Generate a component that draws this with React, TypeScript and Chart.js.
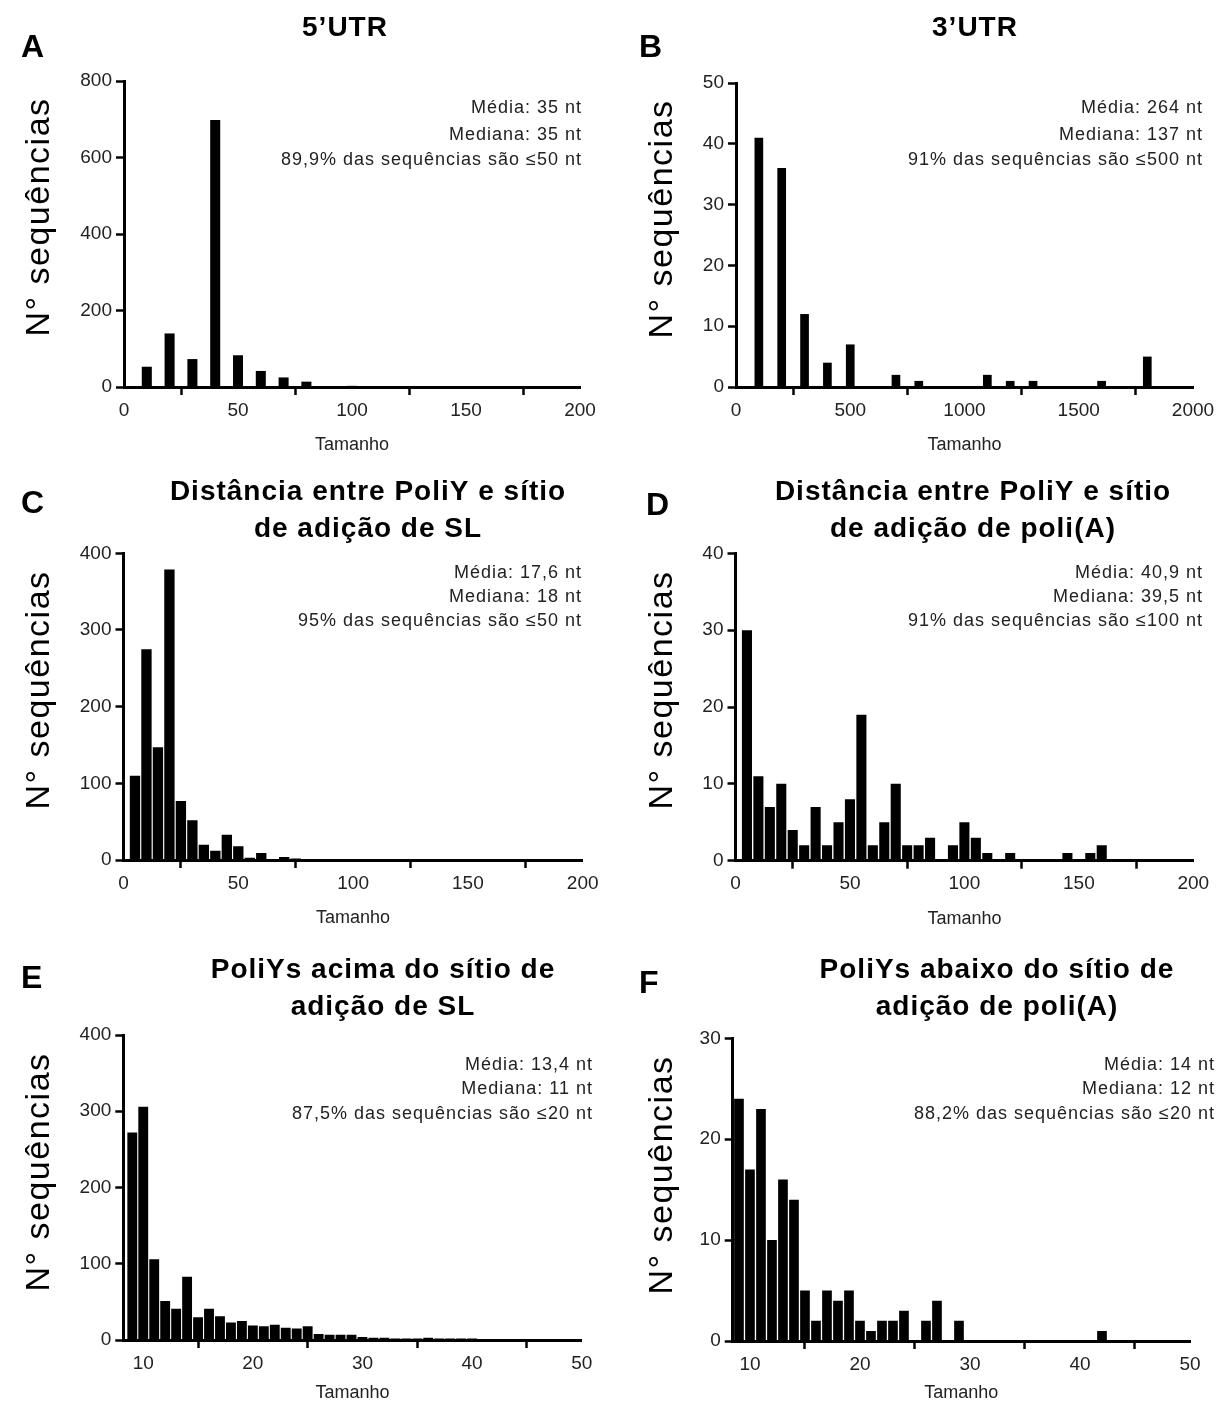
import React, { useEffect, useRef } from 'react';
import { Chart, registerables } from 'chart.js';

Chart.register(...registerables);

const FONT = '"Liberation Sans", Arial, Helvetica, sans-serif';
const Y_TITLE = 'N° sequências';
const X_TITLE = 'Tamanho';

// ---- Panel A: 5'UTR ----
const utr5Lengths = [10, 20, 30, 40, 50, 60, 70, 80, 90, 100];
const utr5Counts = [53, 140, 73, 698, 83, 42, 25, 14, 0, 3];
const utr5XTicks = [0, 50, 100, 150, 200];
const utr5YTicks = [0, 200, 400, 600, 800];

// ---- Panel B: 3'UTR ----
const utr3Lengths = [100, 200, 300, 400, 500, 600, 700, 800, 900, 1000, 1100, 1200, 1300, 1400, 1500, 1600, 1700, 1800];
const utr3Counts = [41, 36, 12, 4, 7, 0, 2, 1, 0, 0, 2, 1, 1, 0, 0, 1, 0, 5];
const utr3XTicks = [0, 500, 1000, 1500, 2000];
const utr3YTicks = [0, 10, 20, 30, 40, 50];

// ---- Panel C: distance PoliY - SL site ----
const slDistLengths = [5, 10, 15, 20, 25, 30, 35, 40, 45, 50, 55, 60, 65, 70, 75, 80];
const slDistCounts = [110, 275, 147, 379, 77, 52, 20, 12, 33, 18, 3, 9, 1, 4, 2, 1];
const slDistXTicks = [0, 50, 100, 150, 200];
const slDistYTicks = [0, 100, 200, 300, 400];

// ---- Panel D: distance PoliY - poly(A) site ----
const paDistLengths = [5, 10, 15, 20, 25, 30, 35, 40, 45, 50, 55, 60, 65, 70, 75, 80, 85, 90, 95, 100, 105, 110, 115, 120, 125, 130, 135, 140, 145, 150, 155, 160];
const paDistCounts = [30, 11, 7, 10, 4, 2, 7, 2, 5, 8, 19, 2, 5, 10, 2, 2, 3, 0, 2, 5, 3, 1, 0, 1, 0, 0, 0, 0, 1, 0, 1, 2];
const paDistXTicks = [0, 50, 100, 150, 200];
const paDistYTicks = [0, 10, 20, 30, 40];

// ---- Panel E: PoliYs upstream of SL site ----
const polyYSLLengths = [9, 10, 11, 12, 13, 14, 15, 16, 17, 18, 19, 20, 21, 22, 23, 24, 25, 26, 27, 28, 29, 30, 31, 32, 33, 34, 35, 36, 37, 38, 39, 40, 41, 42, 43];
const polyYSLCounts = [272, 306, 106, 51, 41, 83, 30, 41, 31, 23, 25, 19, 18, 20, 16, 15, 18, 8, 7, 7, 7, 4, 3, 3, 2, 2, 2, 3, 2, 2, 2, 2, 1, 1, 1];
const polyYSLXTicks = [10, 20, 30, 40, 50];
const polyYSLYTicks = [0, 100, 200, 300, 400];

// ---- Panel F: PoliYs downstream of poly(A) site ----
const polyYPALengths = [9, 10, 11, 12, 13, 14, 15, 16, 17, 18, 19, 20, 21, 22, 23, 24, 25, 26, 27, 28, 29, 30, 31, 32, 33, 34, 35, 36, 37, 38, 39, 40, 41, 42];
const polyYPACounts = [24, 17, 23, 10, 16, 14, 5, 2, 5, 4, 5, 2, 1, 2, 2, 3, 0, 2, 4, 0, 2, 0, 0, 0, 0, 0, 0, 0, 0, 0, 0, 0, 0, 1];
const polyYPAXTicks = [10, 20, 30, 40, 50];
const polyYPAYTicks = [0, 10, 20, 30];

type Box = { left: number; top: number; width: number; height: number };
type Area = { l: number; r: number; t: number; b: number };
type PanelSpec = {
  letter: string;
  title: string[];
  notes: string[];
  bins: number[];
  counts: number[];
  xTicks: number[];
  yTicks: number[];
  xMin: number;
  barPct: number;
  box: Box;
  area: Area;
  letterPos: [number, number];
  titleX: number;
  titleYs: number[];
  notesX: number;
  notesYs: number[];
  yLabelPos: [number, number];
  xTitleGap: number;
};

const PANELS: PanelSpec[] = [
  {
    letter: 'A',
    title: ['5’UTR'],
    notes: ['Média: 35 nt', 'Mediana: 35 nt', '89,9% das sequências são ≤50 nt'],
    bins: utr5Lengths, counts: utr5Counts, xTicks: utr5XTicks, yTicks: utr5YTicks,
    xMin: 0, barPct: 0.44,
    box: { left: 0, top: 0, width: 613, height: 467 },
    area: { l: 124, r: 580, t: 81, b: 387 },
    letterPos: [21, 57], titleX: 345, titleYs: [36],
    notesX: 582, notesYs: [113, 140, 165],
    yLabelPos: [40, 217], xTitleGap: 58,
  },
  {
    letter: 'B',
    title: ['3’UTR'],
    notes: ['Média: 264 nt', 'Mediana: 137 nt', '91% das sequências são ≤500 nt'],
    bins: utr3Lengths, counts: utr3Counts, xTicks: utr3XTicks, yTicks: utr3YTicks,
    xMin: 0, barPct: 0.38,
    box: { left: 613, top: 0, width: 613, height: 467 },
    area: { l: 736, r: 1193, t: 83, b: 387 },
    letterPos: [639, 57], titleX: 975, titleYs: [36],
    notesX: 1203, notesYs: [113, 140, 165],
    yLabelPos: [663, 219], xTitleGap: 58,
  },
  {
    letter: 'C',
    title: ['Distância entre PoliY e sítio', 'de adição de SL'],
    notes: ['Média: 17,6 nt', 'Mediana: 18 nt', '95% das sequências são ≤50 nt'],
    bins: slDistLengths, counts: slDistCounts, xTicks: slDistXTicks, yTicks: slDistYTicks,
    xMin: 0, barPct: 0.9,
    box: { left: 0, top: 467, width: 613, height: 473 },
    area: { l: 123.5, r: 582.7, t: 553.3, b: 860 },
    letterPos: [21, 513], titleX: 368, titleYs: [500, 537],
    notesX: 582, notesYs: [578, 602, 626],
    yLabelPos: [40, 690], xTitleGap: 58,
  },
  {
    letter: 'D',
    title: ['Distância entre PoliY e sítio', 'de adição de poli(A)'],
    notes: ['Média: 40,9 nt', 'Mediana: 39,5 nt', '91% das sequências são ≤100 nt'],
    bins: paDistLengths, counts: paDistCounts, xTicks: paDistXTicks, yTicks: paDistYTicks,
    xMin: 0, barPct: 0.88,
    box: { left: 613, top: 467, width: 613, height: 473 },
    area: { l: 735.5, r: 1193.3, t: 553.3, b: 860.7 },
    letterPos: [646, 515], titleX: 973, titleYs: [500, 537],
    notesX: 1203, notesYs: [578, 602, 626],
    yLabelPos: [663, 690], xTitleGap: 58,
  },
  {
    letter: 'E',
    title: ['PoliYs acima do sítio de', 'adição de SL'],
    notes: ['Média: 13,4 nt', 'Mediana: 11 nt', '87,5% das sequências são ≤20 nt'],
    bins: polyYSLLengths, counts: polyYSLCounts, xTicks: polyYSLXTicks, yTicks: polyYSLYTicks,
    xMin: 8.18, barPct: 0.9,
    box: { left: 0, top: 940, width: 613, height: 462 },
    area: { l: 123.3, r: 581.7, t: 1035, b: 1340 },
    letterPos: [21, 988], titleX: 383, titleYs: [978, 1015],
    notesX: 593, notesYs: [1070, 1094, 1119],
    yLabelPos: [40, 1172], xTitleGap: 53,
  },
  {
    letter: 'F',
    title: ['PoliYs abaixo do sítio de', 'adição de poli(A)'],
    notes: ['Média: 14 nt', 'Mediana: 12 nt', '88,2% das sequências são ≤20 nt'],
    bins: polyYPALengths, counts: polyYPACounts, xTicks: polyYPAXTicks, yTicks: polyYPAYTicks,
    xMin: 8.43, barPct: 0.88,
    box: { left: 613, top: 940, width: 613, height: 462 },
    area: { l: 732.7, r: 1190, t: 1038.3, b: 1341 },
    letterPos: [639, 993], titleX: 997, titleYs: [978, 1015],
    notesX: 1215, notesYs: [1070, 1094, 1119],
    yLabelPos: [663, 1175], xTitleGap: 52,
  },
];

function Panel({ spec }: { spec: PanelSpec }) {
  const ref = useRef<HTMLCanvasElement>(null);

  useEffect(() => {
    const canvas = ref.current;
    if (!canvas) return;
    const { box, area } = spec;
    const yAxisWidth = area.l - box.left;
    const xAxisHeight = box.top + box.height - area.b;
    const xTitleSize = 18;
    const xTitlePadBottom = xAxisHeight - spec.xTitleGap - (xTitleSize * 1.2) / 2;

    const textPlugin = {
      id: 'panelText' + spec.letter,
      afterDraw(chart: any) {
        const ctx = chart.ctx as CanvasRenderingContext2D;
        const ox = box.left;
        const oy = box.top;
        ctx.save();
        ctx.fillStyle = '#000';
        ctx.textBaseline = 'alphabetic';
        ctx.textAlign = 'left';
        ctx.font = `bold 32px ${FONT}`;
        ctx.fillText(spec.letter, spec.letterPos[0] - ox, spec.letterPos[1] - oy);

        (ctx as any).letterSpacing = '1px';
        ctx.font = `bold 28px ${FONT}`;
        ctx.textAlign = 'center';
        spec.title.forEach((line, i) => ctx.fillText(line, spec.titleX - ox, spec.titleYs[i] - oy));

        ctx.font = `18px ${FONT}`;
        ctx.fillStyle = '#222';
        ctx.textAlign = 'right';
        spec.notes.forEach((line, i) => ctx.fillText(line, spec.notesX - ox, spec.notesYs[i] - oy));

        (ctx as any).letterSpacing = '1.5px';
        ctx.fillStyle = '#000';
        ctx.font = `34px ${FONT}`;
        ctx.translate(spec.yLabelPos[0] - ox, spec.yLabelPos[1] - oy);
        ctx.rotate(-Math.PI / 2);
        ctx.textAlign = 'center';
        ctx.textBaseline = 'middle';
        ctx.fillText(Y_TITLE, 0, 0);
        ctx.restore();
      },
    };

    const axisCommon = {
      grid: {
        display: true,
        drawOnChartArea: false,
        drawTicks: true,
        tickLength: 8,
        tickWidth: 2.5,
        tickColor: '#000',
        color: '#000',
      },
      border: { display: true, width: 3, color: '#000' },
    };

    const tickFont = { family: FONT, size: 19 };

    const chart = new Chart(canvas, {
      type: 'bar',
      data: {
        datasets: [
          {
            data: spec.bins.map((x, i) => ({ x, y: spec.counts[i] })),
            backgroundColor: '#000',
            borderWidth: 0,
            barPercentage: spec.barPct,
            categoryPercentage: 1,
          },
        ],
      },
      options: {
        responsive: false,
        animation: false,
        layout: {
          padding: {
            left: 0,
            top: area.t - box.top,
            right: box.left + box.width - area.r,
            bottom: 0,
          },
        },
        plugins: {
          legend: { display: false },
          tooltip: { enabled: false },
          title: { display: false },
        },
        scales: {
          x: {
            type: 'linear',
            min: spec.xMin,
            max: spec.xTicks[spec.xTicks.length - 1],
            offset: false,
            ...axisCommon,
            ticks: {
              autoSkip: false,
              maxRotation: 0,
              padding: 4,
              color: '#222',
              font: tickFont,
              callback: (v: any) => String(v),
            },
            title: {
              display: true,
              text: X_TITLE,
              color: '#222',
              font: { family: FONT, size: xTitleSize },
              padding: { top: 0, bottom: xTitlePadBottom },
            },
            afterBuildTicks: (scale: any) => {
              scale.ticks = spec.xTicks.map((value) => ({ value }));
            },
            afterFit: (scale: any) => {
              scale.height = xAxisHeight;
            },
          },
          y: {
            type: 'linear',
            min: 0,
            max: spec.yTicks[spec.yTicks.length - 1],
            ...axisCommon,
            ticks: {
              autoSkip: false,
              padding: 4,
              color: '#222',
              font: tickFont,
              callback: (v: any) => String(v),
            },
            afterBuildTicks: (scale: any) => {
              scale.ticks = spec.yTicks.map((value) => ({ value }));
            },
            afterFit: (scale: any) => {
              scale.width = yAxisWidth;
            },
          },
        },
      } as any,
      plugins: [textPlugin],
    });

    return () => chart.destroy();
  }, [spec]);

  return (
    <canvas
      ref={ref}
      width={spec.box.width}
      height={spec.box.height}
      style={{
        position: 'absolute',
        left: spec.box.left,
        top: spec.box.top,
        width: spec.box.width,
        height: spec.box.height,
      }}
    />
  );
}

export default function App() {
  return (
    <div
      style={{
        position: 'absolute',
        left: 0,
        top: 0,
        width: 1226,
        height: 1402,
        background: '#fff',
        overflow: 'hidden',
      }}
    >
      {PANELS.map((p) => (
        <Panel key={p.letter} spec={p} />
      ))}
    </div>
  );
}
